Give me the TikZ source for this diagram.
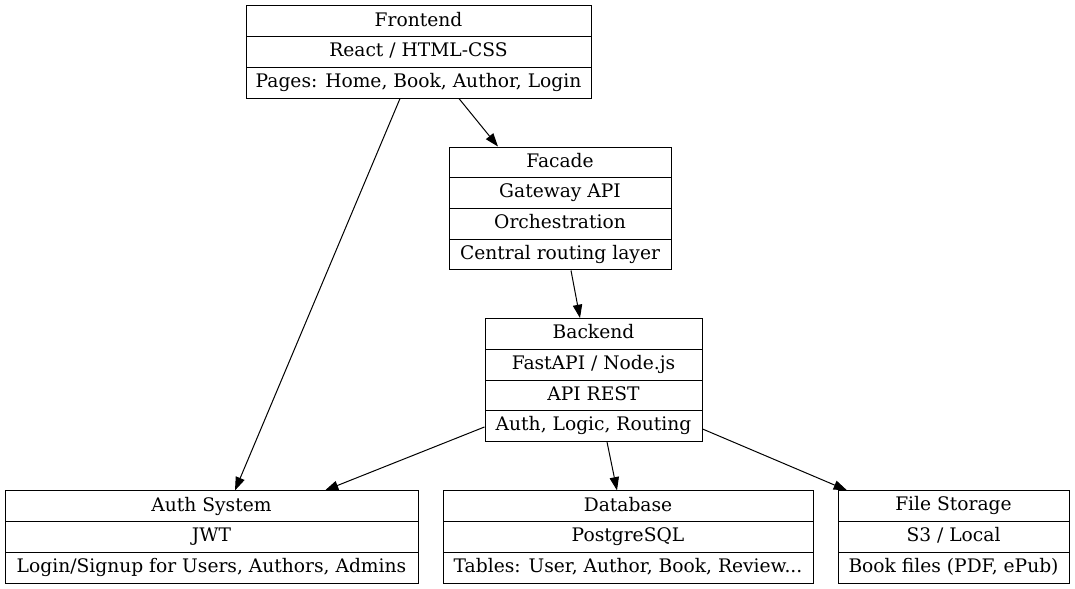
\documentclass[tikz,border=0pt]{standalone}
\usepackage{fontspec}
\setmainfont{DejaVu Serif}
\usepackage{xcolor}
\usetikzlibrary{shapes.multipart,arrows.meta}
\newcommand{\rowstrut}{\rule[-3.5pt]{0pt}{14pt}}

\begin{document}
\begin{tikzpicture}[x=0.75pt, y=-0.75pt,
  record/.style={rectangle split, rectangle split parts=#1, draw, line width=0.75pt,
    font=\fontsize{14}{17}\selectfont, inner ysep=4.1pt, inner xsep=0pt, align=center},
  link/.style={line width=0.75pt, -{Triangle[length=10pt,width=7pt]}}]
  \useasboundingbox (0,0) rectangle (1075,589);

  \node[record=3, minimum width=345*0.75pt] (frontend) at (418.5,52)
    {\rowstrut Frontend \nodepart{two} \rowstrut React / HTML-CSS
     \nodepart{three} \rowstrut Pages: Home, Book, Author, Login};
  \node[record=4, minimum width=222*0.75pt] (facade) at (560,208.5)
    {\rowstrut Facade \nodepart{two} \rowstrut Gateway API
     \nodepart{three} \rowstrut Orchestration \nodepart{four} \rowstrut Central routing layer};
  \node[record=4, minimum width=217*0.75pt] (backend) at (593.5,380)
    {\rowstrut Backend \nodepart{two} \rowstrut FastAPI / Node.js
     \nodepart{three} \rowstrut API REST \nodepart{four} \rowstrut Auth, Logic, Routing};
  \node[record=3, minimum width=413*0.75pt] (auth) at (211.5,537)
    {\rowstrut Auth System \nodepart{two} \rowstrut JWT
     \nodepart{three} \rowstrut Login/Signup for Users, Authors, Admins};
  \node[record=3, minimum width=370*0.75pt] (database) at (628,537)
    {\rowstrut Database \nodepart{two} \rowstrut PostgreSQL
     \nodepart{three} \rowstrut Tables: User, Author, Book, Review...};
  \node[record=3, minimum width=231*0.75pt] (storage) at (953.5,537)
    {\rowstrut File Storage \nodepart{two} \rowstrut S3 / Local
     \nodepart{three} \rowstrut Book files (PDF, ePub)};

  \draw[link] ([shift={(-18.5,0)}]frontend.south) -- ([shift={(23.5,0)}]auth.north);
  \draw[link] ([shift={(40.5,0)}]frontend.south) -- ([shift={(-62,0)}]facade.north);
  \draw[link] ([shift={(11,0)}]facade.south) -- ([shift={(-13.5,0)}]backend.north);
  \draw[link] ([shift={(0,-15)}]backend.south west) -- ([shift={(113.5,0)}]auth.north);
  \draw[link] ([shift={(13.5,0)}]backend.south) -- ([shift={(-11,0)}]database.north);
  \draw[link] ([shift={(0,-13)}]backend.south east) -- ([shift={(-106.5,0)}]storage.north);
\end{tikzpicture}
\end{document}
